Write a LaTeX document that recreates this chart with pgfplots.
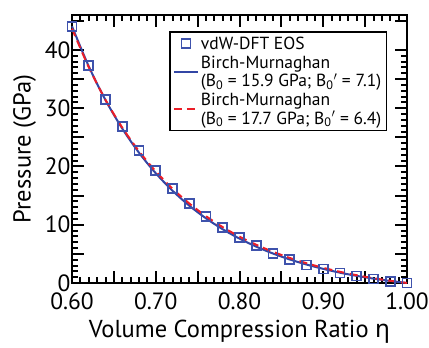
\documentclass[border=0pt]{standalone}
\usepackage{fontspec}
\setmainfont{PT Sans}
\newfontfamily\etafont{Noto Sans}
\usepackage{pgfplots}
\pgfplotsset{compat=1.18}
\definecolor{dftblue}{RGB}{62,82,172}
\definecolor{bmblue}{RGB}{50,70,165}
\definecolor{bmred}{RGB}{235,30,40}
\pgfplotsset{
  linelegend/.style={legend image code/.code={\draw[##1] (0pt,0pt) -- (24pt,0pt);}},
  marklegend/.style={legend image code/.code={\draw[##1] plot coordinates {(12pt,0pt)};}},
}
\begin{document}
\begin{tikzpicture}
\begin{axis}[
  name=ax,
  scale only axis,
  width=335pt, height=268pt,
  xmin=0.6, xmax=1.0, ymin=0, ymax=46,
  clip=false,
  axis line style={line width=2.5pt},
  tick align=inside,
  major tick length=12pt, minor tick length=6pt,
  tick style={line width=2pt, black},
  xtick={0.6,0.7,0.8,0.9,1.0},
  minor x tick num=9,
  extra x ticks={0.65,0.75,0.85,0.95},
  extra x tick labels={},
  ytick={0,10,20,30,40},
  minor y tick num=9,
  extra y ticks={5,15,25,35,45},
  extra y tick labels={},
  /pgf/number format/assume math mode=true,
  ticklabel style={font=\fontsize{23.5}{27}\selectfont},
  xticklabel style={/pgf/number format/.cd, fixed, fixed zerofill, precision=2, /tikz/.cd, yshift=-6pt},
  yticklabel style={xshift=2pt},
  xlabel={Volume Compression Ratio {\etafont η}},
  ylabel={Pressure (GPa)},
  label style={font=\fontsize{24.5}{28}\selectfont},
  xlabel style={yshift=-4pt},
  ylabel style={yshift=2pt},
  legend style={at={(rel axis cs:0.29,0.94)}, anchor=north west, draw=black, line width=1.5pt,
    font=\fontsize{17.5}{18.5}\selectfont, cells={anchor=west, align=left}, inner sep=3pt,
    row sep=1pt, /tikz/every even column/.append style={column sep=5pt}},
]
\addplot[only marks, mark=square, mark size=4.5pt, mark options={line width=1.8pt, draw=dftblue}, marklegend]
coordinates {
(0.60,44.0)(0.62,37.3)(0.64,31.5)(0.66,26.8)(0.68,22.8)(0.70,19.3)(0.72,16.2)
(0.74,13.6)(0.76,11.4)(0.78,9.5)(0.80,7.8)(0.82,6.4)(0.84,5.1)(0.86,4.0)
(0.88,3.1)(0.90,2.4)(0.92,1.7)(0.94,1.2)(0.96,0.7)(0.98,0.3)(1.00,0.0)};
\addlegendentry{vdW-DFT EOS}
\addplot[smooth, no marks, bmblue, line width=2pt, linelegend]
coordinates {
(0.60,44.06)(0.62,37.19)(0.64,31.40)(0.66,26.51)(0.68,22.36)(0.70,18.84)(0.72,15.84)
(0.74,13.28)(0.76,11.10)(0.78,9.22)(0.80,7.62)(0.82,6.24)(0.84,5.06)(0.86,4.04)
(0.88,3.17)(0.90,2.42)(0.92,1.77)(0.94,1.22)(0.96,0.75)(0.98,0.35)(1.00,0)};
\addlegendentry{Birch-Murnaghan\\(B\textsubscript{0} = 15.9 GPa; B\textsubscript{0}$'$ = 7.1)}
\addplot[smooth, no marks, bmred, line width=2pt, dash pattern=on 8pt off 5pt, linelegend]
coordinates {
(0.60,43.67)(0.62,37.04)(0.64,31.43)(0.66,26.67)(0.68,22.62)(0.70,19.15)(0.72,16.19)
(0.74,13.65)(0.76,11.46)(0.78,9.58)(0.80,7.96)(0.82,6.56)(0.84,5.35)(0.86,4.30)
(0.88,3.39)(0.90,2.60)(0.92,1.92)(0.94,1.33)(0.96,0.82)(0.98,0.38)(1.00,0)};
\addlegendentry{Birch-Murnaghan\\(B\textsubscript{0} = 17.7 GPa; B\textsubscript{0}$'$ = 6.4)}
\end{axis}
\pgfresetboundingbox
\path ([shift={(-72pt,-65pt)}]ax.south west) rectangle ([shift={(22pt,15pt)}]ax.north east);
\end{tikzpicture}
\end{document}
